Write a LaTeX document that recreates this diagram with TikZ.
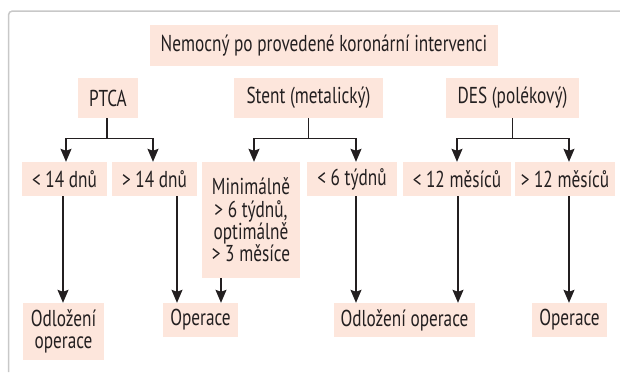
\documentclass[tikz,border=0pt]{standalone}
\usepackage{fontspec}
\setmainfont{PT Sans}[FakeStretch=0.75]
\usetikzlibrary{arrows.meta}
\definecolor{boxfill}{HTML}{FDE6DC}
\definecolor{ink}{HTML}{231F20}
\definecolor{framegray}{HTML}{C8C8C8}
\begin{document}
\begin{tikzpicture}[x=1pt,y=-1pt,
  box/.style={fill=boxfill,inner sep=0pt,text=ink,align=center,
    font=\fontsize{23}{22.3}\selectfont},
  conn/.style={draw=ink,line width=1.3pt},
  arr/.style={conn,-{Stealth[length=13pt,width=11pt,inset=2pt]}}]
\useasboundingbox (0,0) rectangle (620,372);
\draw[framegray,line width=1.5pt,rounded corners=4pt] (8.5,372) -- (8.5,11) -- (620,11);
% nodes
\node[box,minimum width=348pt,minimum height=41pt] (title) at (324,45.5) {Nemocný po provedené koronární intervenci};
\node[box,minimum width=60pt,minimum height=40pt] (ptca) at (108,98) {PTCA};
\node[box,minimum width=149pt,minimum height=40pt] (stent) at (308.5,98) {Stent (metalický)};
\node[box,minimum width=133pt,minimum height=40pt] (des) at (512.5,98) {DES (polékový)};
\node[box,minimum width=85pt,minimum height=34pt] (lt14) at (64.5,179) {< 14 dnů};
\node[box,minimum width=85pt,minimum height=34pt] (gt14) at (154.5,179) {> 14 dnů};
\node[box,minimum width=98pt,minimum height=116pt] (mini) at (251,220) {Minimálně\\> 6 týdnů,\\optimálně\\> 3 měsíce};
\node[box,minimum width=90pt,minimum height=34pt] (lt6) at (352,179) {< 6 týdnů};
\node[box,minimum width=108pt,minimum height=34pt] (lt12) at (457,179) {< 12 měsíců};
\node[box,minimum width=100pt,minimum height=34pt] (gt12) at (565,179) {> 12 měsíců};
\node[box,minimum width=81pt,minimum height=57pt] (odl1) at (63.5,331.5) {Odložení\\operace};
\node[box,minimum width=75pt,minimum height=34pt] (op1) at (200.5,320) {Operace};
\node[box,minimum width=141pt,minimum height=34pt] (odl2) at (404.5,320) {Odložení operace};
\node[box,minimum width=75pt,minimum height=34pt] (op2) at (569.5,320) {Operace};
% top connectors
\draw[conn] ([xshift=-1pt]ptca.south) -- ++(0,20) coordinate (pj);
\draw[arr] (pj) -| ([xshift=1.5pt]lt14.north);
\draw[arr] (pj) -| ([xshift=-1.5pt]gt14.north);
\draw[conn] (stent.south) -- ++(0,20) coordinate (sj);
\draw[arr] (sj) -| ([xshift=3pt]mini.north);
\draw[arr] (sj) -| ([xshift=4pt]lt6.north);
\draw[conn] (des.south) -- ++(0,20) coordinate (dj);
\draw[arr] (dj) -| (lt12.north);
\draw[arr] (dj) -| ([xshift=4pt]gt12.north);
% bottom connectors
\draw[arr] ([xshift=-1.5pt]lt14.south) -- ([xshift=-1.5pt]lt14.south |- odl1.north);
\draw[arr] ([xshift=22.5pt]gt14.south) -- ([xshift=22.5pt]gt14.south |- op1.north);
\draw[arr] ([xshift=-30pt]mini.south) -- ([xshift=-30pt]mini.south |- op1.north);
\draw[arr] ([xshift=4pt]lt6.south) -- ([xshift=4pt]lt6.south |- odl2.north);
\draw[arr] ([xshift=1pt]lt12.south) -- ([xshift=1pt]lt12.south |- odl2.north);
\draw[arr] ([xshift=4pt]gt12.south) -- ([xshift=4pt]gt12.south |- op2.north);
\end{tikzpicture}
\end{document}
